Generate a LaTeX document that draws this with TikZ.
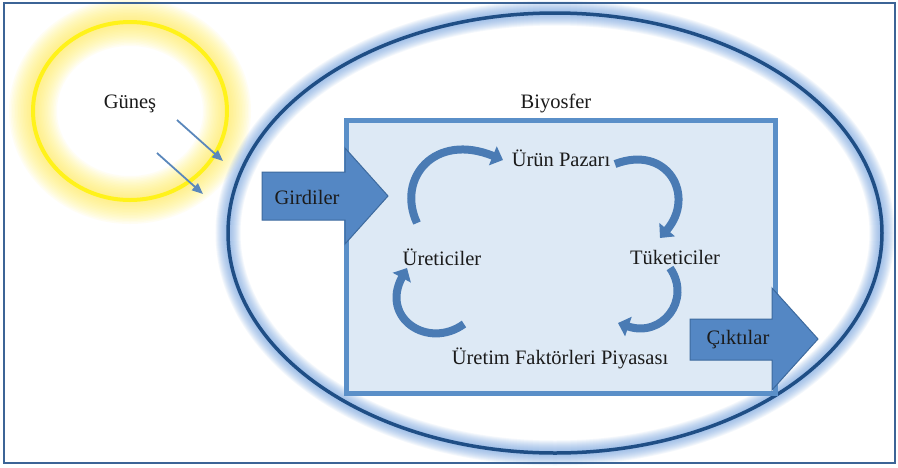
\documentclass[tikz,border=0pt]{standalone}
\usepackage{fontspec}
\setmainfont{Liberation Serif}
\usetikzlibrary{arrows.meta}

\definecolor{framec}{HTML}{3C6496}
\definecolor{sunc}{HTML}{FFF21A}
\definecolor{sunglow}{HTML}{FFF060}
\definecolor{bioline}{HTML}{1F4E85}
\definecolor{bioglow}{HTML}{6E9FE0}
\definecolor{boxfill}{HTML}{DDE9F5}
\definecolor{boxline}{HTML}{5A8FC8}
\definecolor{arrfill}{HTML}{5487C4}
\definecolor{arrline}{HTML}{3D6A9E}
\definecolor{cycc}{HTML}{4A7BB4}
\definecolor{rayc}{HTML}{5A87BB}
\definecolor{txt}{HTML}{1B1B1B}

\tikzset{
  lbl/.style={font=\fontsize{20.5}{24}\selectfont, text=txt, inner sep=0pt},
  blockarrow/.style={fill=arrfill, draw=arrline, line width=1pt, line join=miter},
  cycle arrow/.style={draw=cycc, line width=8pt,
    -{Triangle[width=20pt,length=11pt]}},
  ray/.style={draw=rayc, line width=1.8pt,
    -{Triangle[width=9pt,length=11pt]}}
}

\begin{document}
\begin{tikzpicture}[x=1pt,y=-1pt]
\useasboundingbox (0,0) rectangle (898,467);
\fill[white] (0,0) rectangle (898,467);

% sun: soft yellow halo and ring
\foreach \w in {6,9,...,48}{
  \draw[sunglow, line width=\w pt, opacity=0.07] (130,111) ellipse [x radius=97pt, y radius=89pt];
}
\draw[sunc, line width=4pt] (130,111) ellipse [x radius=97pt, y radius=89pt];

% biosphere: glowing ellipse
\foreach \w in {5,7,...,25}{
  \draw[bioglow, line width=\w pt, opacity=0.08] (555,233) ellipse [x radius=327pt, y radius=220pt];
}
\draw[bioline, line width=3.5pt] (555,233) ellipse [x radius=327pt, y radius=220pt];

% economy box
\draw[boxline, fill=boxfill, line width=5pt] (346,120) rectangle (775,393);

% labels
\node[lbl] (sun)  at (130,104) {Güneş};
\node[lbl] (bio)  at (556,103) {Biyosfer};
\node[lbl] (mkt)  at (561,158) {Ürün Pazarı};
\node[lbl] (prod) at (442,257) {Üreticiler};
\node[lbl] (cons) at (675,257) {Tüketiciler};
\node[lbl] (fac)  at (560,358) {Üretim Faktörleri Piyasası};

% circular flow arrows
\coordinate (c1s) at (417,223);
\coordinate (c1e) at (503,160);
\coordinate (c2s) at (615,164);
\coordinate (c2e) at (660,238);
\coordinate (c3s) at (670,268);
\coordinate (c3e) at (618,323);
\coordinate (c4s) at (464,324);
\coordinate (c4e) at (407,268);
\draw[cycle arrow] (c1s) .. controls (396,178) and (435,132) .. (c1e);
\draw[cycle arrow] (c2s) .. controls (668,144) and (696,196) .. (c2e);
\draw[cycle arrow] (c3s) .. controls (692,300) and (662,338) .. (c3e);
\draw[cycle arrow] (c4s) .. controls (428,350) and (380,318) .. (c4e);

% inputs and outputs
\draw[blockarrow] (262,172) -- (345,172) -- (345,148) -- (388,196) -- (345,244) -- (345,220) -- (262,220) -- cycle;
\node[lbl] (inp) at (307,197) {Girdiler};
\draw[blockarrow] (690,319) -- (772,319) -- (772,288) -- (818,339) -- (772,390) -- (772,360) -- (690,360) -- cycle;
\node[lbl] (out) at (738,340) {Çıktılar};

% solar rays
\coordinate (r1s) at (177,120);
\coordinate (r1e) at (223,161);
\coordinate (r2s) at (157,153);
\coordinate (r2e) at (203,194);
\draw[ray] (r1s) -- (r1e);
\draw[ray] (r2s) -- (r2e);

% frame
\draw[framec, line width=2.5pt] (4,3) rectangle (895,463);
\end{tikzpicture}
\end{document}
